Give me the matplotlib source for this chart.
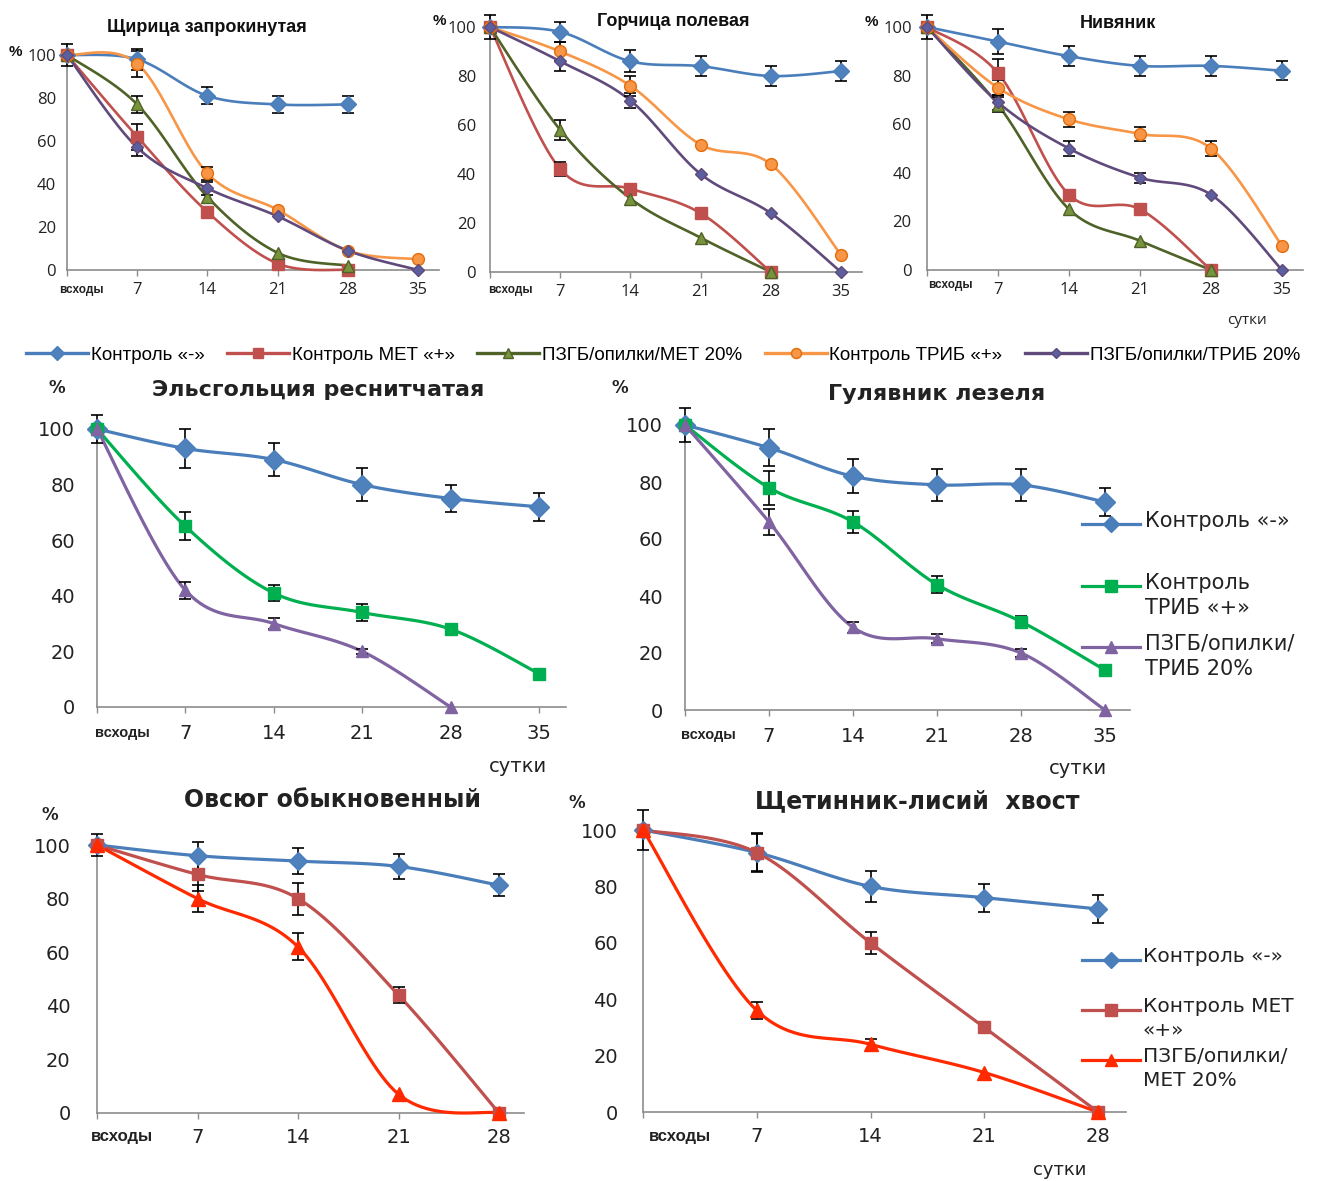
import numpy as np
import matplotlib
matplotlib.use("Agg")
import matplotlib.pyplot as plt
from matplotlib import font_manager
from matplotlib.lines import Line2D

W, H = 1327, 1181

# ---- data (survival of weeds, % of initial) ----
days = ["всходы", "7", "14", "21", "28", "35"]

# Щирица запрокинутая
a_neg = [100, 98, 81, 77, 77]
a_met = [100, 62, 27, 3, 0]
a_met20 = [100, 77, 34, 8, 2]
a_trib = [100, 96, 45, 28, 9, 5]
a_trib20 = [100, 57, 38, 25, 9, 0]
a_neg_err = [5, 5, 4, 4, 4]
a_met_err = [0, 6, 0, 0, 0]
a_met20_err = [0, 4, 0, 0, 0]
a_trib_err = [0, 6, 3, 0, 0, 0]
a_trib20_err = [0, 4, 3, 0, 0, 0]

# Горчица полевая
b_neg = [100, 98, 86, 84, 80, 82]
b_met = [100, 42, 34, 24, 0]
b_met20 = [100, 58, 30, 14, 0]
b_trib = [100, 90, 76, 52, 44, 7]
b_trib20 = [100, 86, 70, 40, 24, 0]
b_neg_err = [5, 4, 4.5, 4, 4, 4]
b_met_err = [0, 3, 0, 0, 0]
b_met20_err = [0, 4, 0, 0, 0]
b_trib_err = [0, 4, 4, 0, 0, 0]
b_trib20_err = [0, 4, 3, 0, 0, 0]

# Нивяник
c_neg = [100, 94, 88, 84, 84, 82]
c_met = [100, 81, 31, 25, 0]
c_met20 = [100, 68, 25, 12, 0]
c_trib = [100, 75, 62, 56, 50, 10]
c_trib20 = [100, 69, 50, 38, 31, 0]
c_neg_err = [5, 5, 4, 4, 4, 4]
c_met_err = [0, 6, 0, 0, 0]
c_met20_err = [0, 3, 0, 0, 0]
c_trib_err = [0, 3, 3, 3, 3, 0]
c_trib20_err = [0, 3, 3, 2, 0, 0]

# Эльсгольция реснитчатая
d_neg = [100, 93, 89, 80, 75, 72]
d_trib = [100, 65, 41, 34, 28, 12]
d_trib20 = [100, 42, 30, 20, 0]
d_neg_err = [5, 7, 6, 6, 5, 5]
d_trib_err = [0, 5, 3, 3, 2, 0]
d_trib20_err = [0, 3, 2, 1, 0]

# Гулявник лезеля
e_neg = [100, 92, 82, 79, 79, 73]
e_trib = [100, 78, 66, 44, 31, 14]
e_trib20 = [100, 66, 29, 25, 20, 0]
e_neg_err = [6, 6.5, 6, 5.5, 5.5, 5]
e_trib_err = [0, 6, 4, 3, 2, 0]
e_trib20_err = [0, 4.5, 2, 1.5, 1.5, 0]

# Овсюг обыкновенный
f_neg = [100, 96, 94, 92, 85]
f_met = [100, 89, 80, 44, 0]
f_met20 = [100, 80, 62, 7, 0]
f_neg_err = [4, 5, 5, 4.5, 4]
f_met_err = [0, 6, 6, 3, 0]
f_met20_err = [0, 5, 5, 0, 0]

# Щетинник-лисий хвост
g_neg = [100, 92, 80, 76, 72]
g_met = [100, 92, 60, 30, 0]
g_met20 = [100, 36, 24, 14, 0]
g_neg_err = [7, 7, 5.5, 5, 5]
g_met_err = [0, 6.5, 4, 0, 0]
g_met20_err = [0, 3, 2, 0, 0]

lbl_neg = "Контроль «-»"
lbl_met = "Контроль МЕТ «+»"
lbl_met20 = "ПЗГБ/опилки/МЕТ 20%"
lbl_trib = "Контроль ТРИБ «+»"
lbl_trib20 = "ПЗГБ/опилки/ТРИБ 20%"

# ---- fonts ----
installed = {f.name for f in font_manager.fontManager.ttflist}
NARROW = "Liberation Sans Narrow" if "Liberation Sans Narrow" in installed else "Liberation Sans"
ARIAL = "Liberation Sans"
VERD = "DejaVu Sans"
CAL = "Open Sans"

# ---- colours ----
BLUE = "#4a7ebb"
RED = "#c0504d"
OLIVE = "#4f6228"
OLIVE_M = "#77933c"
ORANGE = "#f79646"
ORANGE_E = "#e46c0a"
DPURP = "#604a7b"
GREEN = "#00b050"
PURP = "#8064a2"
RED2 = "#ff2a00"
AXIS = "#8c8c8c"

fig = plt.figure(figsize=(W / 100, H / 100), dpi=100)


def px(x, y):
    return x / W, 1 - y / H


def smooth(vals, k=25):
    y = np.asarray(vals, float)
    x = np.arange(len(y), dtype=float)
    pts = np.column_stack([x, y])
    pad = np.vstack([pts[0], pts, pts[-1]])
    t = np.linspace(0, 1, k)[:, None]
    out = []
    for i in range(len(pts) - 1):
        p0, p1, p2, p3 = pad[i], pad[i + 1], pad[i + 2], pad[i + 3]
        c1 = p1 + (p2 - p0) / 6
        c2 = p2 - (p3 - p1) / 6
        seg = ((1 - t) ** 3) * p1 + 3 * ((1 - t) ** 2) * t * c1 + 3 * (1 - t) * t ** 2 * c2 + t ** 3 * p2
        out.append(seg if i == 0 else seg[1:])
    out = np.vstack(out)
    return out[:, 0], out[:, 1]


def make_axes(x0, xn, n, y0, y100, ytop=105, xext=0.3):
    ppc = (xn - x0) / n
    ppu = (y0 - y100) / 100
    right = xn + xext * ppc
    top = y0 - ytop * ppu
    ax = fig.add_axes([x0 / W, 1 - y0 / H, (right - x0) / W, (y0 - top) / H])
    ax.set_xlim(0, n + xext)
    ax.set_ylim(0, ytop)
    ax.patch.set_alpha(0)
    for s in ("top", "right"):
        ax.spines[s].set_visible(False)
    for s in ("left", "bottom"):
        ax.spines[s].set_color(AXIS)
        ax.spines[s].set_linewidth(1.2)
    return ax


def style_ticks(ax, n, font, size, xpad, ypad, first_xy, first_size):
    ax.set_yticks(range(0, 101, 20))
    ax.set_xticks(range(n + 1))
    ax.set_xticklabels([""] + days[1:n + 1])
    ax.tick_params(axis="y", length=0, pad=ypad, labelsize=size, colors="#222222")
    ax.tick_params(axis="x", length=4, width=1, color=AXIS, direction="out", pad=xpad,
                   labelsize=size, labelcolor="#222222")
    for lab in ax.get_xticklabels() + ax.get_yticklabels():
        lab.set_family(font)
    ax.annotate(days[0], xy=(0, 0), xycoords="data", xytext=first_xy, textcoords="offset pixels",
                ha="center", va="center", fontsize=first_size, fontweight="bold",
                family=ARIAL, color="#222222", annotation_clip=False)


def series(ax, vals, err, color, marker, ms, mfc=None, mec=None, lw=1.9, z=3):
    xs, ys = smooth(vals)
    ax.plot(xs, ys, color=color, lw=lw, zorder=z, clip_on=False, solid_capstyle="round")
    x = np.arange(len(vals))
    e = np.asarray(err, float)
    m = e > 0
    if m.any():
        ax.errorbar(x[m], np.asarray(vals, float)[m], yerr=e[m], fmt="none", ecolor="black",
                    elinewidth=1.2, capsize=4, capthick=1.2, zorder=z + 0.5, clip_on=False)
    ax.plot(x, vals, ls="none", marker=marker, ms=ms, mfc=mfc or color, mec=mec or color,
            mew=1, zorder=z + 1, clip_on=False)


# ================= top row =================
top_style = dict(
    neg=(BLUE, "D", 8, "#4f81bd", BLUE),
    met=(RED, "s", 8, RED, RED),
    met20=(OLIVE, "^", 8, OLIVE_M, OLIVE),
    trib=(ORANGE, "o", 8.5, ORANGE, ORANGE_E),
    trib20=(DPURP, "D", 6, "#5b5f9e", DPURP),
)

top_panels = [
    ("Щирица запрокинутая", (67, 418, 270, 55), (207, 28), (15, 52), (81, 290),
     [("neg", a_neg, a_neg_err), ("met", a_met, a_met_err), ("met20", a_met20, a_met20_err),
      ("trib", a_trib, a_trib_err), ("trib20", a_trib20, a_trib20_err)], 8),
    ("Горчица полевая", (490, 841, 272, 27), (673, 22), (439, 21), (510, 290),
     [("neg", b_neg, b_neg_err), ("met", b_met, b_met_err), ("met20", b_met20, b_met20_err),
      ("trib", b_trib, b_trib_err), ("trib20", b_trib20, b_trib20_err)], 10),
    ("Нивяник", (927, 1282, 270, 27), (1118, 24), (871, 22), (950, 285),
     [("neg", c_neg, c_neg_err), ("met", c_met, c_met_err), ("met20", c_met20, c_met20_err),
      ("trib", c_trib, c_trib_err), ("trib20", c_trib20, c_trib20_err)], 11),
]

handles = {}
for title, (x0, xn, y0, y100), tpos, ppos, fpos, ser, ypad in top_panels:
    ax = make_axes(x0, xn, 5, y0, y100)
    for key, vals, err in ser:
        col, mk, ms, mfc, mec = top_style[key]
        series(ax, vals, err, col, mk, ms, mfc, mec, lw=1.9)
        handles[key] = Line2D([], [], color=col, lw=2.4, marker=mk, ms=ms * 0.85, mfc=mfc, mec=mec)
    style_ticks(ax, 5, CAL, 12, 5, ypad, (fpos[0] - x0, y0 - fpos[1]), 8.5)
    fig.text(*px(*tpos), title, ha="center", va="center", fontsize=13, fontweight="bold",
             family=NARROW, color="#111111")
    fig.text(*px(*ppos), "%", ha="center", va="center", fontsize=11, fontweight="bold",
             family=ARIAL, color="#111111")

fig.text(*px(1247, 320), "сутки", ha="center", va="center", fontsize=11, family=CAL, color="#222222")

keys = ["neg", "met", "met20", "trib", "trib20"]
labels = [lbl_neg, lbl_met, lbl_met20, lbl_trib, lbl_trib20]
fig.legend([handles[k] for k in keys], labels, loc="center", bbox_to_anchor=px(663, 355),
           ncol=5, frameon=False, handlelength=3.3, handletextpad=0.15, columnspacing=1.2,
           prop=dict(family=NARROW, size=13.5))

# ================= middle row =================
mid_style = dict(
    neg=(BLUE, "D", 10, "#4f81bd", BLUE),
    trib=(GREEN, "s", 9, GREEN, GREEN),
    trib20=(PURP, "^", 9, PURP, PURP),
)

mid_panels = [
    ("Эльсгольция реснитчатая", (97, 539, 707, 429), (318, 390), (57, 388), (122, 733),
     [("neg", d_neg, d_neg_err), ("trib", d_trib, d_trib_err), ("trib20", d_trib20, d_trib20_err)],
     (518, 767), 16),
    ("Гулявник лезеля", (685, 1105, 710, 425), (937, 394), (620, 388), (708, 735),
     [("neg", e_neg, e_neg_err), ("trib", e_trib, e_trib_err), ("trib20", e_trib20, e_trib20_err)],
     (1078, 769), 16),
]

for title, (x0, xn, y0, y100), tpos, ppos, fpos, ser, spos, ypad in mid_panels:
    ax = make_axes(x0, xn, 5, y0, y100, ytop=102)
    for key, vals, err in ser:
        col, mk, ms, mfc, mec = mid_style[key]
        series(ax, vals, err, col, mk, ms, mfc, mec, lw=2.3)
    style_ticks(ax, 5, VERD, 14, 8, ypad, (fpos[0] - x0, y0 - fpos[1]), 10.5)
    fig.text(*px(*tpos), title, ha="center", va="center", fontsize=16, fontweight="bold",
             family=VERD, color="#222222")
    fig.text(*px(*ppos), "%", ha="center", va="center", fontsize=12, fontweight="bold",
             family=VERD, color="#222222")
    fig.text(*px(*spos), "сутки", ha="center", va="center", fontsize=14, family=VERD, color="#222222")


def side_legend(entries, x_line0, x_line1, x_text, size):
    for (col, mk, ms, label, y) in entries:
        fig.add_artist(Line2D([x_line0 / W, x_line1 / W], [1 - y / H] * 2, transform=fig.transFigure,
                              color=col, lw=2.3))
        fig.add_artist(Line2D([(x_line0 + x_line1) / 2 / W], [1 - y / H], transform=fig.transFigure,
                              ls="none", marker=mk, ms=ms, color=col))
        fig.text(x_text / W, 1 - (y - 13) / H, label, ha="left", va="top", fontsize=size,
                 family=VERD, color="#222222", linespacing=1.3)


side_legend([
    (BLUE, "D", 8, lbl_neg, 524),
    (GREEN, "s", 8, "Контроль\nТРИБ «+»", 586),
    (PURP, "^", 8, "ПЗГБ/опилки/\nТРИБ 20%", 647),
], 1082, 1140, 1145, 15)

# ================= bottom row =================
bot_style = dict(
    neg=(BLUE, "D", 9.5, "#4f81bd", BLUE),
    met=(RED, "s", 9, RED, RED),
    met20=(RED2, "^", 9.5, RED2, RED2),
)

bot_panels = [
    ("Овсюг обыкновенный", (97, 499, 1113, 845), (333, 800), (50, 815), (122, 1137),
     [("neg", f_neg, f_neg_err), ("met", f_met, f_met_err), ("met20", f_met20, f_met20_err)], 19),
    ("Щетинник-лисий  хвост", (643, 1098, 1112, 830), (917, 801), (577, 803), (680, 1137),
     [("neg", g_neg, g_neg_err), ("met", g_met, g_met_err), ("met20", g_met20, g_met20_err)], 18),
]

for title, (x0, xn, y0, y100), tpos, ppos, fpos, ser, ypad in bot_panels:
    ax = make_axes(x0, xn, 4, y0, y100, ytop=103, xext=0.25)
    for key, vals, err in ser:
        col, mk, ms, mfc, mec = bot_style[key]
        series(ax, vals, err, col, mk, ms, mfc, mec, lw=2.3)
    style_ticks(ax, 4, VERD, 14, 7, ypad, (fpos[0] - x0, y0 - fpos[1]), 12)
    fig.text(*px(*tpos), title, ha="center", va="center", fontsize=17, fontweight="bold",
             family=VERD, color="#222222")
    fig.text(*px(*ppos), "%", ha="center", va="center", fontsize=12, fontweight="bold",
             family=VERD, color="#222222")

fig.text(*px(1060, 1170), "сутки", ha="center", va="center", fontsize=13, family=VERD, color="#222222")

side_legend([
    (BLUE, "D", 8, lbl_neg, 960),
    (RED, "s", 8, "Контроль МЕТ\n«+»", 1010),
    (RED2, "^", 8, "ПЗГБ/опилки/\nМЕТ 20%", 1060),
], 1082, 1140, 1143, 14.5)

fig.savefig("out.png", dpi=100)
